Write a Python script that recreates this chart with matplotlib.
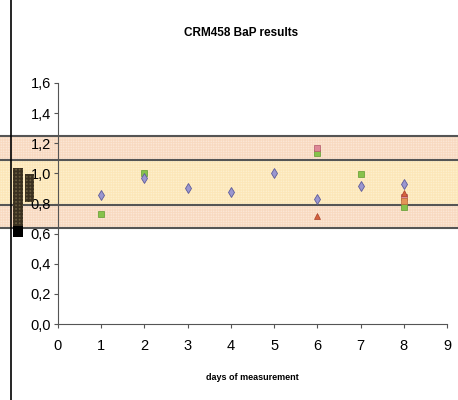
import matplotlib
matplotlib.use("Agg")
import matplotlib.pyplot as plt
import matplotlib.transforms as mtransforms
from matplotlib.patches import Rectangle
from matplotlib.ticker import FuncFormatter

# CRM458 BaP results per day (ratio to certified value)
days_a = [1, 2, 3, 4, 5, 6, 7, 8]
series_a = [0.855, 0.97, 0.904, 0.876, 1.005, 0.83, 0.915, 0.931]
days_b = [1, 2, 6, 7, 8]
series_b = [0.727, 1.004, 1.138, 0.993, 0.776]
days_c = [6, 8]
series_c = [1.171, 0.844]
days_d = [6, 8]
series_d = [0.716, 0.871]
days_e = [8]
series_e = [0.815]

# acceptance limits
outer_lim = (0.635, 1.245)
inner_lim = (0.787, 1.089)

# the two bars at the left edge
bar_bottoms = [0.58, 0.807]
bar_tops = [1.033, 0.993]

plt.rcParams['font.family'] = ['Liberation Sans', 'DejaVu Sans']
plt.rcParams['hatch.linewidth'] = 0.5

fig = plt.figure(figsize=(4.58, 4.0), dpi=100)
ax = fig.add_axes([58 / 458, 76 / 400, 389 / 458, 241 / 400])
ax.set_xlim(0, 9)
ax.set_ylim(0, 1.6)

trans = mtransforms.blended_transform_factory(fig.transFigure, ax.transData)

# shaded bands across the whole width
outer = Rectangle((0, outer_lim[0]), 1, outer_lim[1] - outer_lim[0], transform=trans,
                  facecolor='#fdeee2', edgecolor='#f8d9c0', hatch='+' * 10, linewidth=0,
                  clip_on=False, zorder=0)
ax.add_patch(outer)
inner = Rectangle((0, inner_lim[0]), 1, inner_lim[1] - inner_lim[0], transform=trans,
                  facecolor='#fff5d8', edgecolor='#fce6b8', hatch='+' * 10, linewidth=0,
                  clip_on=False, zorder=0.5)
ax.add_patch(inner)
for y in list(outer_lim) + list(inner_lim):
    ax.plot([0, 1], [y, y], transform=trans, color='#555555', lw=1.5,
            clip_on=False, zorder=1)

# bars at the far left
xs = [13 / 458, 25 / 458]
ws = [10 / 458, 9 / 458]
for x, w, b, t in zip(xs, ws, bar_bottoms, bar_tops):
    r = Rectangle((x, b), w, t - b, transform=trans, facecolor='#b0a070',
                  edgecolor='#3a3020', hatch='++++++++++++', linewidth=0,
                  clip_on=False, zorder=2)
    ax.add_patch(r)
ax.add_patch(Rectangle((13 / 458, bar_bottoms[0]), 10 / 458, 0.07, transform=trans,
                       facecolor='black', linewidth=0, clip_on=False, zorder=2.5))

# left border line of the chart area
fig.add_artist(plt.Line2D([11 / 458, 11 / 458], [0, 1], color='black', lw=1.2))

ax.plot(days_b, series_b, 's', ms=4.5, color='#86c24a', mec='#5f9a30', mew=0.5, zorder=3)
ax.plot(days_a, series_a, 'd', ms=5.5, color='#9a96d0', mec='#5c5a98', mew=0.6, zorder=4)
ax.plot(days_c, series_c, 's', ms=4.5, color='#de8898', mec='#b05868', mew=0.5, zorder=4)
ax.plot(days_d, series_d, '^', ms=5, color='#d4603e', mec='#a8402a', mew=0.5, zorder=4)
ax.plot(days_e, series_e, 's', ms=4.2, color='#e39458', mec='#b86a38', mew=0.5, zorder=4)

ax.spines['top'].set_visible(False)
ax.spines['right'].set_visible(False)
ax.spines['left'].set_color('#555555')
ax.spines['bottom'].set_color('#555555')
ax.set_facecolor('none')
ax.set_xticks(range(10))
ax.set_yticks([i * 0.2 for i in range(9)])
ax.yaxis.set_major_formatter(FuncFormatter(lambda v, p: f"{v:.1f}".replace('.', ',')))
ax.tick_params(direction='out', length=3, color='#555555', labelsize=10.5, pad=2)
ax.tick_params(axis='x', pad=8)

ax.set_xlabel('days of measurement', fontsize=6.5, fontweight='bold', labelpad=14)
fig.text(241 / 458, 1 - 33 / 400, 'CRM458 BaP results', ha='center', va='center',
         fontsize=8.5, fontweight='bold')

fig.savefig('out.png', dpi=100)
